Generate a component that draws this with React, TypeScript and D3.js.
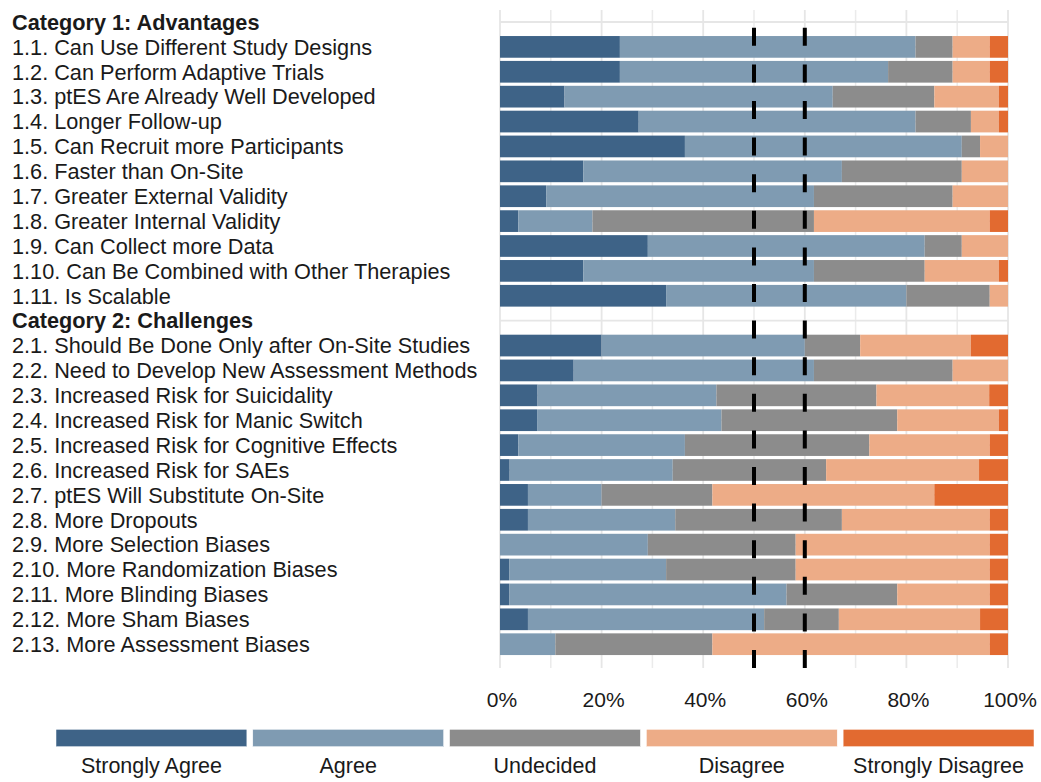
import React from "react";
import * as d3 from "d3";

const categoryTitles = ["Category 1: Advantages", "Category 2: Challenges"];

const advantageItems = [
  "1.1. Can Use Different Study Designs",
  "1.2. Can Perform Adaptive Trials",
  "1.3. ptES Are Already Well Developed",
  "1.4. Longer Follow-up",
  "1.5. Can Recruit more Participants",
  "1.6. Faster than On-Site",
  "1.7. Greater External Validity",
  "1.8. Greater Internal Validity",
  "1.9. Can Collect more Data",
  "1.10. Can Be Combined with Other Therapies",
  "1.11. Is Scalable",
];

const challengeItems = [
  "2.1. Should Be Done Only after On-Site Studies",
  "2.2. Need to Develop New Assessment Methods",
  "2.3. Increased Risk for Suicidality",
  "2.4. Increased Risk for Manic Switch",
  "2.5. Increased Risk for Cognitive Effects",
  "2.6. Increased Risk for SAEs",
  "2.7. ptES Will Substitute On-Site",
  "2.8. More Dropouts",
  "2.9. More Selection Biases",
  "2.10. More Randomization Biases",
  "2.11. More Blinding Biases",
  "2.12. More Sham Biases",
  "2.13. More Assessment Biases",
];

// percentages, in item order (advantages then challenges)
const stronglyAgree = [
  23.6, 23.6, 12.7, 27.3, 36.4, 16.4, 9.1, 3.6, 29.1, 16.4, 32.7,
  20.0, 14.5, 7.4, 7.3, 3.6, 1.9, 5.5, 5.5, 0, 1.8, 1.8, 5.5, 0,
];
const agree = [
  58.2, 52.8, 52.8, 54.5, 54.5, 50.9, 52.7, 14.6, 54.5, 45.4, 47.3,
  40.0, 47.3, 35.2, 36.3, 32.8, 32.1, 14.5, 29.0, 29.1, 30.9, 54.6, 46.5, 10.9,
];
const undecided = [
  7.3, 12.7, 20.0, 10.9, 3.6, 23.6, 27.3, 43.6, 7.3, 21.8, 16.4,
  10.9, 27.3, 31.5, 34.6, 36.3, 30.2, 21.8, 32.8, 29.1, 25.5, 21.8, 14.7, 30.9,
];
const disagree = [
  7.3, 7.3, 12.7, 5.5, 5.5, 9.1, 10.9, 34.6, 9.1, 14.6, 3.6,
  21.8, 10.9, 22.2, 20.0, 23.7, 30.1, 43.7, 29.1, 38.2, 38.2, 18.2, 27.8, 54.6,
];
const stronglyDisagree = [
  3.6, 3.6, 1.8, 1.8, 0, 0, 0, 3.6, 0, 1.8, 0,
  7.3, 0, 3.7, 1.8, 3.6, 5.7, 14.5, 3.6, 3.6, 3.6, 3.6, 5.5, 3.6,
];

const responseLevels = ["Strongly Agree", "Agree", "Undecided", "Disagree", "Strongly Disagree"];
const responseColors = ["#3E6387", "#7F9BB2", "#8C8C8C", "#EDAC87", "#E26A30"];
const tickValues = [0, 20, 40, 60, 80, 100];
const minorTickValues = [10, 30, 50, 70, 90];
const thresholdLines = [50, 60];

const W = 1041;
const H = 782;
const FONT = "'Liberation Sans', Arial, Helvetica, sans-serif";

type Row = { key: string; label: string; header: boolean; idx: number };

export default function App() {
  const items = [...advantageItems, ...challengeItems];
  const rows: Row[] = [];
  rows.push({ key: "h1", label: categoryTitles[0], header: true, idx: -1 });
  advantageItems.forEach((l, i) => rows.push({ key: l, label: l, header: false, idx: i }));
  rows.push({ key: "h2", label: categoryTitles[1], header: true, idx: -1 });
  challengeItems.forEach((l, i) =>
    rows.push({ key: l, label: l, header: false, idx: advantageItems.length + i })
  );

  const table = items.map((label, i) => ({
    label,
    [responseLevels[0]]: stronglyAgree[i],
    [responseLevels[1]]: agree[i],
    [responseLevels[2]]: undecided[i],
    [responseLevels[3]]: disagree[i],
    [responseLevels[4]]: stronglyDisagree[i],
  }));
  const series = d3.stack<any>().keys(responseLevels)(table);

  const panelTop = 10;
  const panelBottom = 668;
  const x = d3.scaleLinear().domain([0, 100]).range([500, 1008]);
  const y = d3
    .scalePoint<string>()
    .domain(rows.map((r) => r.key))
    .range([22, 644.2]);
  const barH = 21.7;
  const color = d3.scaleOrdinal<string, string>().domain(responseLevels).range(responseColors);
  const legendX = d3.scaleBand<string>().domain(responseLevels).range([56, 1034]).paddingInner(0.03);

  return (
    <div style={{ position: "absolute", left: 0, top: 0 }}>
      <svg width={W} height={H} style={{ display: "block", fontFamily: FONT }}>
        <rect x={0} y={0} width={W} height={H} fill="#ffffff" />
        {/* grid */}
        {minorTickValues.map((t) => (
          <line key={"mn" + t} x1={x(t)} x2={x(t)} y1={panelTop} y2={panelBottom} stroke="#ebebeb" strokeWidth={1.5} />
        ))}
        {tickValues.map((t) => (
          <line key={"mj" + t} x1={x(t)} x2={x(t)} y1={panelTop} y2={panelBottom} stroke="#e6e6e6" strokeWidth={1.8} />
        ))}
        {rows.map((r) => (
          <line key={"hg" + r.key} x1={x(0)} x2={x(100)} y1={y(r.key)} y2={y(r.key)} stroke="#e6e6e6" strokeWidth={1.8} />
        ))}
        {/* bars */}
        {series.map((s) => (
          <g key={s.key} fill={color(s.key)}>
            {s.map((d, i) => {
              const w = x(d[1]) - x(d[0]);
              if (w <= 0) return null;
              return (
                <rect
                  key={i}
                  x={x(d[0])}
                  y={(y(items[i]) as number) - barH / 2}
                  width={w}
                  height={barH}
                />
              );
            })}
          </g>
        ))}
        {/* threshold lines */}
        {thresholdLines.map((t) => (
          <line
            key={"th" + t}
            x1={x(t)}
            x2={x(t)}
            y1={panelBottom}
            y2={panelTop}
            stroke="#000"
            strokeWidth={4}
            strokeDasharray="18 18.6"
          />
        ))}
        {/* row labels */}
        {rows.map((r) => (
          <text
            key={"lb" + r.key}
            x={12}
            y={y(r.key)}
            dy="0.36em"
            fontSize={21.7}
            fontWeight={r.header ? "bold" : "normal"}
            fill="#1a1a1a"
          >
            {r.label}
          </text>
        ))}
        {/* x tick labels */}
        {tickValues.map((t) => (
          <text key={"tk" + t} x={x(t) + 2} y={707} textAnchor="middle" fontSize={21} fill="#1a1a1a">
            {t + "%"}
          </text>
        ))}
        {/* legend */}
        {responseLevels.map((lvl) => (
          <g key={"lg" + lvl}>
            <rect
              x={legendX(lvl)}
              y={729.3}
              width={legendX.bandwidth()}
              height={17.4}
              fill={color(lvl)}
              stroke="#ffffff"
              strokeWidth={0.5}
            />
            <text
              x={(legendX(lvl) as number) + legendX.bandwidth() / 2}
              y={773}
              textAnchor="middle"
              fontSize={21.5}
              fill="#1a1a1a"
            >
              {lvl}
            </text>
          </g>
        ))}
      </svg>
    </div>
  );
}
